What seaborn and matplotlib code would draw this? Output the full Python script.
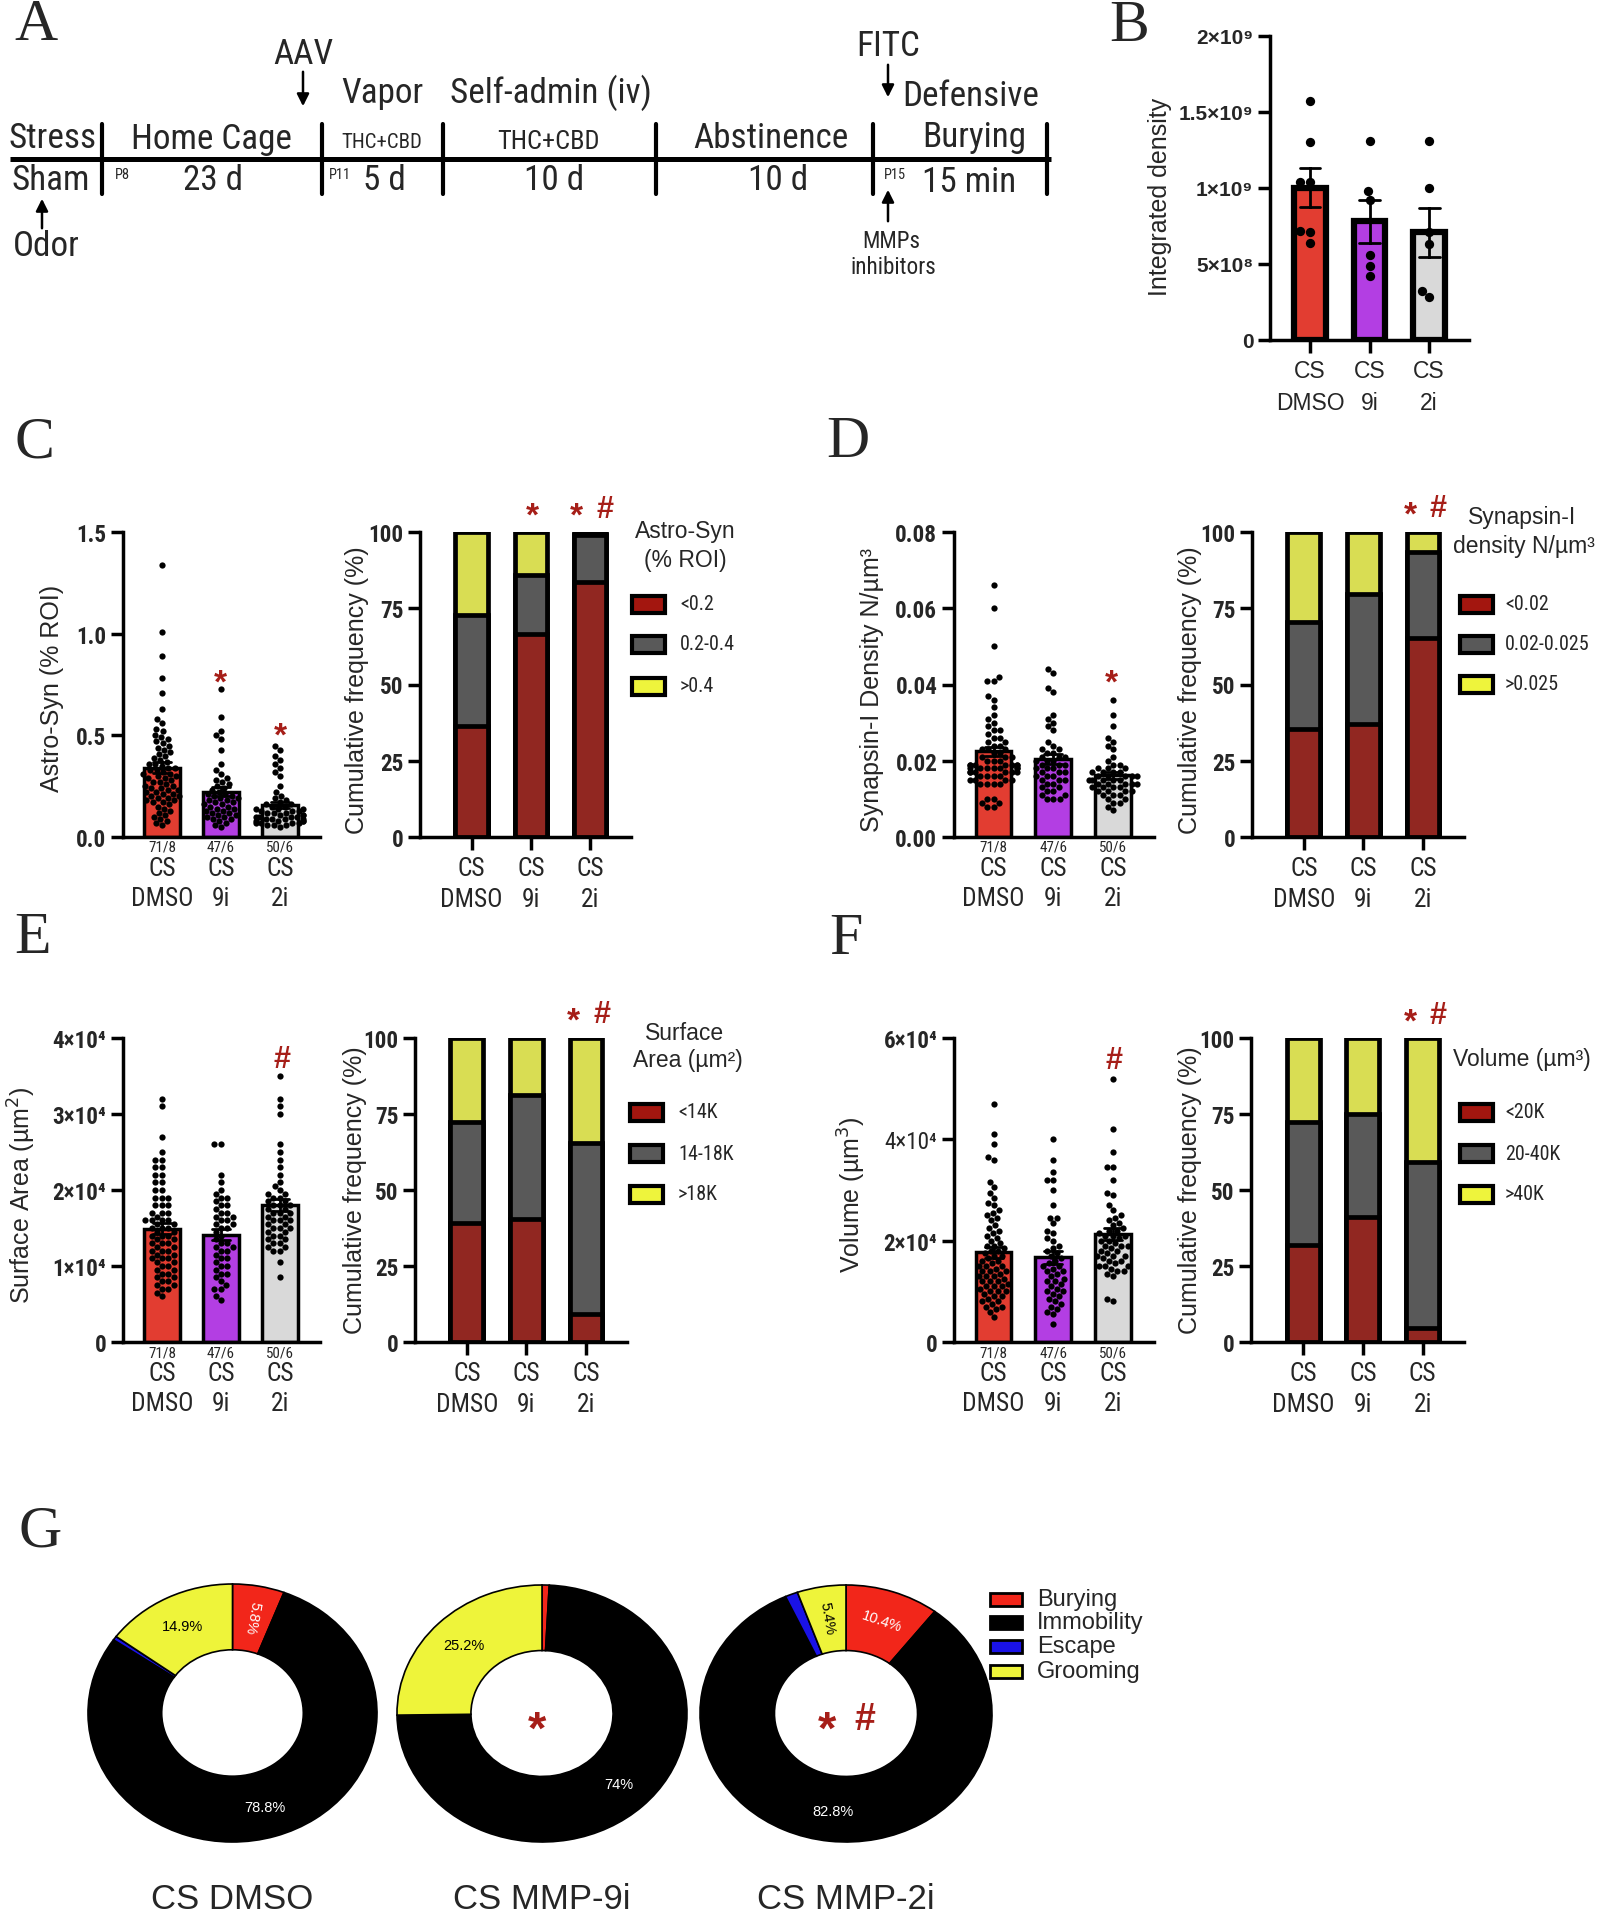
import warnings
import numpy as np
import pandas as pd
import matplotlib
matplotlib.use("Agg")
import matplotlib.pyplot as plt
from matplotlib import font_manager
from matplotlib.patches import Rectangle
import seaborn as sns
warnings.filterwarnings('ignore')

# ----- Data -----
groups = ['CS\nDMSO', 'CS\n9i', 'CS\n2i']
n_labels = ['71/8', '47/6', '50/6']

# B: integrated density (per animal)
b_dmso = [1.57e9, 1.30e9, 1.04e9, 1.04e9, 0.72e9, 0.71e9, 0.64e9]
b_9i = [1.31e9, 0.98e9, 0.92e9, 0.56e9, 0.49e9, 0.42e9]
b_2i = [1.31e9, 1.00e9, 0.71e9, 0.63e9, 0.32e9, 0.28e9]

# C: Astro-Syn (% ROI)
c_dmso = [1.34, 1.01, 0.89, 0.78, 0.71, 0.63, 0.58, 0.56, 0.53, 0.52, 0.50, 0.49, 0.48, 0.47,
          0.46, 0.45, 0.44, 0.43, 0.42, 0.41, 0.40, 0.39, 0.38, 0.37, 0.36, 0.36, 0.35, 0.34,
          0.33, 0.32, 0.31, 0.30, 0.30, 0.29, 0.28, 0.27, 0.27, 0.26, 0.25, 0.25, 0.24, 0.24,
          0.23, 0.23, 0.22, 0.22, 0.21, 0.21, 0.20, 0.20, 0.19, 0.19, 0.18, 0.18, 0.17, 0.17,
          0.16, 0.15, 0.14, 0.13, 0.12, 0.11, 0.10, 0.09, 0.08, 0.07, 0.06, 0.34, 0.33, 0.31, 0.29]
c_9i = [0.73, 0.59, 0.52, 0.50, 0.48, 0.43, 0.36, 0.33, 0.31, 0.29, 0.28, 0.27, 0.26, 0.25,
        0.24, 0.23, 0.22, 0.21, 0.21, 0.20, 0.20, 0.19, 0.19, 0.18, 0.18, 0.17, 0.17, 0.16,
        0.16, 0.15, 0.15, 0.14, 0.14, 0.13, 0.13, 0.12, 0.12, 0.11, 0.11, 0.10, 0.10, 0.09,
        0.09, 0.08, 0.07, 0.06, 0.05]
c_2i = [0.45, 0.43, 0.40, 0.38, 0.36, 0.34, 0.32, 0.30, 0.25, 0.22, 0.20, 0.19, 0.18, 0.17,
        0.16, 0.16, 0.15, 0.15, 0.14, 0.14, 0.14, 0.13, 0.13, 0.13, 0.12, 0.12, 0.12, 0.11,
        0.11, 0.11, 0.10, 0.10, 0.10, 0.10, 0.09, 0.09, 0.09, 0.09, 0.08, 0.08, 0.08, 0.08,
        0.07, 0.07, 0.07, 0.07, 0.06, 0.06, 0.06, 0.05]
c_low = [36.3, 66.7, 83.6]     # <0.2
c_mid = [36.4, 19.3, 15.3]     # 0.2-0.4
c_high = [27.3, 14.0, 1.1]     # >0.4

# D: Synapsin-I density (x 1e-3 N/um3)
d_dmso = [66, 60, 50, 42, 41, 41, 37, 36, 34, 32, 31, 30, 29, 28, 28, 27, 26, 26, 25, 25, 24, 24,
          23, 23, 23, 22, 22, 21, 21, 21, 20, 20, 20, 19, 19, 19, 19, 18, 18, 18, 18, 17, 17, 17,
          17, 16, 16, 16, 16, 15, 15, 15, 15, 14, 14, 14, 14, 19, 19, 19, 18, 18, 18, 17, 17, 10,
          10, 9, 9, 8, 8]
d_9i = [44, 43, 39, 38, 32, 31, 30, 29, 28, 25, 24, 23, 23, 22, 22, 21, 21, 20, 20, 20, 19, 19,
        19, 18, 18, 18, 17, 17, 17, 16, 16, 16, 15, 15, 15, 14, 14, 13, 13, 12, 12, 11, 11, 10,
        10, 10, 21]
d_2i = [36, 32, 29, 26, 25, 24, 23, 21, 20, 19, 19, 18, 18, 18, 17, 17, 17, 17, 16, 16, 16, 16,
        16, 15, 15, 15, 15, 15, 14, 14, 14, 14, 14, 13, 13, 13, 13, 12, 12, 12, 12, 11, 11, 11,
        10, 10, 9, 9, 8, 7]
d_low = [35.3, 37.0, 65.1]     # <0.02
d_mid = [35.1, 42.7, 28.3]     # 0.02-0.025
d_high = [29.6, 20.3, 6.6]     # >0.025

# E: surface area (x 1e3 um2)
e_dmso = [32, 31, 27, 25, 24, 24, 23, 23, 22, 22, 21, 21, 20, 20, 19, 19, 19, 18, 18, 18, 17, 17,
          17, 16, 16, 16, 16, 15.5, 15.5, 15, 15, 15, 14.5, 14.5, 14, 14, 14, 13.5, 13.5, 13, 13,
          13, 12.5, 12.5, 12, 12, 12, 11.5, 11.5, 11, 11, 11, 10.5, 10.5, 10, 10, 9.5, 9.5, 9, 9,
          8.5, 8.5, 8, 8, 7.5, 7.5, 7, 7, 6.5, 6, 16.5]
e_9i = [26, 26, 22, 21, 20, 19.5, 19, 19, 18.5, 18, 18, 17.5, 17, 17, 16.5, 16.5, 16, 16, 15.5,
        15.5, 15, 15, 14.5, 14, 13.5, 13, 12.5, 12.5, 12, 12, 11.5, 11, 11, 10.5, 10, 10, 9.5, 9,
        9, 8.5, 8, 7.5, 7, 7, 6, 5.5, 13]
e_2i = [35, 32, 31, 30, 26, 25, 24, 23, 22, 21, 20.5, 20, 19.5, 19, 19, 18.5, 18.5, 18, 18, 17.5,
        17.5, 17, 17, 16.5, 16.5, 16, 16, 15.5, 15.5, 15, 15, 14.5, 14.5, 14, 14, 13.5, 13.5, 13,
        13, 12.5, 12.5, 12, 12, 10.5, 8.5, 19.5, 18, 17, 16, 15]
e_low = [39.1, 40.4, 9.1]      # <14K
e_mid = [33.4, 41.0, 56.4]     # 14-18K
e_high = [27.5, 18.6, 34.5]    # >18K

# F: volume (x 1e3 um3)
f_dmso = [47, 41, 39, 36.5, 36, 31.5, 30.5, 29.5, 28.5, 27.5, 27, 26, 25.5, 25, 24.5, 24, 23, 22.5,
          22, 21.5, 21, 20.5, 20, 19.5, 19, 19, 18.5, 18, 18, 17.5, 17, 17, 16.5, 16, 16, 15.5, 15,
          15, 14.5, 14, 14, 13.5, 13, 13, 12.5, 12, 12, 11.5, 11, 11, 10.5, 10, 10, 9.5, 9, 9, 8.5,
          8, 8, 7.5, 7, 7, 6.5, 6, 5, 15, 14, 13, 12, 11, 10]
f_9i = [40, 36, 33.5, 32, 32, 30, 27, 24.5, 24.5, 23.5, 22, 21.5, 20.5, 20, 19, 18.5, 18, 17.5, 17,
        16.5, 16, 15.5, 15, 14.5, 14, 13.5, 13, 12.5, 12, 11.5, 11, 10.5, 10, 9.5, 9, 8.5, 8, 7.5,
        7, 6.5, 6, 5.5, 3.5, 15, 14, 12, 10]
f_2i = [52, 42, 37.5, 34.5, 34.5, 32, 29.5, 29, 27, 26, 25, 24.5, 24, 23.5, 23, 22.5, 22, 22, 21.5,
        21, 21, 20.5, 20, 20, 19.5, 19, 19, 18.5, 18, 18, 17.5, 17, 17, 16.5, 16, 16, 15.5, 15, 15,
        14.5, 14, 14, 13.5, 13, 8.5, 8, 21, 19, 17, 15]
f_low = [31.9, 41.0, 4.7]      # <20K
f_mid = [40.4, 34.1, 54.4]     # 20-40K
f_high = [27.7, 24.9, 40.9]    # >40K

# G: defensive burying behaviour (% of time)
g_behaviours = ['Burying', 'Immobility', 'Escape', 'Grooming']
g_groups = ['CS DMSO', 'CS MMP-9i', 'CS MMP-2i']
g_dmso = [5.8, 78.8, 0.5, 14.9]
g_9i = [0.8, 74.0, 0.0, 25.2]
g_2i = [10.4, 82.8, 1.4, 5.4]

# ----- Style -----
sns.set_theme(style='ticks')
_ttf = font_manager.fontManager.ttflist
_names = {f.name for f in _ttf}
NARROW_STRETCH = 'normal'
if 'Liberation Sans Narrow' in _names:
    NARROW = 'Liberation Sans Narrow'
elif 'Roboto Condensed' in _names:
    NARROW = 'Roboto Condensed'
else:
    _cond = [f.name for f in _ttf if str(f.stretch) in ('condensed', 'semi-condensed')
             and f.name in ('Liberation Sans', 'Noto Sans', 'DejaVu Sans', 'Open Sans', 'Roboto')]
    if _cond:
        NARROW, NARROW_STRETCH = _cond[0], 'condensed'
    else:
        NARROW = 'Liberation Sans'
# narrow fonts may be set a bit larger for the same width
NS = 1.0 if (NARROW == 'Liberation Sans' and NARROW_STRETCH == 'normal') else 1.15
NARROW_F = [NARROW, 'Liberation Sans', 'DejaVu Sans']
SANS_F = ['Liberation Sans', 'DejaVu Sans']
SERIF_F = ['Liberation Serif', 'DejaVu Serif']
plt.rcParams['font.family'] = SANS_F

bar_colors = ['#FF2414', '#BF22FF', '#D9D9D9']
DARK_RED, GRAY, YELLOW = '#A3160F', '#595959', '#EEF43C'
stack_colors = [DARK_RED, GRAY, YELLOW]
g_colors = ['#F2261A', '#000000', '#1A12E6', '#EEF43A']
MARK_RED = '#A61E18'

W, H = 1600, 1924
fig = plt.figure(figsize=(16, 19.24), dpi=100)


def add_ax(left, top, right, bottom):
    return fig.add_axes([left / W, 1 - bottom / H, (right - left) / W, (bottom - top) / H])


def ftext(x, y, s, **kw):
    kw.setdefault('ha', 'center')
    kw.setdefault('va', 'center')
    return fig.text(x / W, 1 - y / H, s, **kw)


def ntext_kw(size):
    return dict(fontsize=size * NS, family=NARROW_F, fontstretch=NARROW_STRETCH)


def mark(x, y, sym, size=24):
    off = (0.57 if sym == '*' else 0.36) * size * 100 / 72
    ftext(x, y + off, sym, va='baseline', fontsize=size, fontweight='bold',
          color=MARK_RED, family=SANS_F)


def style(ax, xlim, ylim, yticks, yticklabels, xtick_len, xpad,
          narrow_x=True, xsize=16, xls=1.35, narrow_y=True, ysize=14.5):
    ax.set_xlim(*xlim)
    ax.set_ylim(*ylim)
    ax.set_yticks(yticks)
    ax.set_yticklabels(yticklabels)
    for t in ax.get_yticklabels():
        if narrow_y:
            t.set_fontfamily(NARROW_F)
            t.set_fontstretch(NARROW_STRETCH)
            t.set_fontsize(ysize * NS)
        else:
            t.set_fontfamily(SANS_F)
            t.set_fontsize(ysize)
        t.set_fontweight('bold')
    ax.set_xticks(range(3))
    ax.set_xticklabels(groups)
    for t in ax.get_xticklabels():
        if narrow_x:
            t.set_fontfamily(NARROW_F)
            t.set_fontstretch(NARROW_STRETCH)
            t.set_fontsize(xsize * NS)
        else:
            t.set_fontfamily(SANS_F)
            t.set_fontsize(xsize)
        t.set_linespacing(xls)
    ax.tick_params(axis='y', length=9, width=2.5, pad=3, color='black')
    ax.tick_params(axis='x', length=xtick_len, width=2.5, pad=xpad, color='black')
    sns.despine(ax=ax)
    for s in ['left', 'bottom']:
        ax.spines[s].set_linewidth(2.5)
        ax.spines[s].set_color('black')
    ax.set_xlabel('')
    ax.set_ylabel('')
    ax.set_facecolor('none')


def scatter_bar(ax, values, scale=1.0, lw=2.5, width=0.6, dot=4.5, capsize=0.3):
    df = pd.DataFrame({
        'group': np.repeat(groups, [len(v) for v in values]),
        'value': np.concatenate([np.asarray(v, float) * scale for v in values]),
    })
    sns.barplot(data=df, x='group', y='value', order=groups, hue='group', hue_order=groups,
                palette=bar_colors, errorbar='se', capsize=capsize,
                err_kws={'color': 'black', 'linewidth': 2}, edgecolor='black',
                linewidth=lw, width=width, legend=False, ax=ax)
    for ln in ax.lines:
        ln.set_zorder(4)
    sns.swarmplot(data=df, x='group', y='value', order=groups, color='black', size=dot,
                  linewidth=0, ax=ax, zorder=3)


def n_counts(ax, off_px=10):
    for i, n in enumerate(n_labels):
        ax.annotate(n, xy=(i, 0), xycoords=('data', 'axes fraction'),
                    xytext=(0, -off_px * 72 / 100), textcoords='offset points',
                    ha='center', va='center', **ntext_kw(9.5))


def stacked(ax, low, mid, high):
    cum = np.cumsum([low, mid, high], axis=0)
    for level in [2, 1, 0]:
        sns.barplot(x=groups, y=cum[level], order=groups, color=stack_colors[level],
                    edgecolor='black', linewidth=3.4, width=0.55, errorbar=None, ax=ax)


def box_legend(x_box, rows_y, labels, text_x, colors, bw=33, bh=17, lw=3, text_kw=None):
    for y, lab, col in zip(rows_y, labels, colors):
        fig.add_artist(Rectangle((x_box / W, 1 - (y + bh / 2) / H), bw / W, bh / H,
                                 transform=fig.transFigure, facecolor=col,
                                 edgecolor='black', linewidth=lw))
        ftext(text_x, y, lab, ha='left', **text_kw)


def ylab(x, y, s):
    ftext(x, y, s, rotation=90, fontsize=18, family=SANS_F)


# ----- Panel letters -----
for letter, (lx, ly) in zip('ABCDEFG', [(36, 26), (1129, 27), (34, 443), (848, 443),
                                       (33, 939), (846, 940), (40, 1533)]):
    ftext(lx, ly, letter, fontsize=43, family=SERIF_F)

# ----- Panel A: timeline -----
axA = add_ax(0, 0, 1060, 300)
axA.set_xlim(0, 1060)
axA.set_ylim(300, 0)
axA.axis('off')
axA.plot([10, 1051], [160, 160], color='black', lw=3.6, solid_capstyle='butt')
for tx in [102, 322, 443, 656, 873, 1047]:
    axA.plot([tx, tx], [125, 195], color='black', lw=3)

timeline_text = [
    (53, 139, 'Stress', 22), (211, 139, 'Home Cage', 22), (382, 142, 'THC+CBD', 13),
    (548, 142, 'THC+CBD', 16.5), (771, 139, 'Abstinence', 22), (974, 138, 'Burying', 22),
    (51, 181, 'Sham', 22), (213, 181, '23 d', 22), (384, 181, '5 d', 22), (554, 181, '10 d', 22),
    (778, 181, '10 d', 22), (969, 183, '15 min', 22),
    (122, 175, 'P8', 9), (340, 175, 'P11', 9), (895, 175, 'P15', 9),
    (303, 55, 'AAV', 22), (382, 93, 'Vapor', 22), (551, 93, 'Self-admin (iv)', 22),
    (888, 47, 'FITC', 22), (971, 97, 'Defensive', 22),
    (46, 247, 'Odor', 22), (891, 242, 'MMPs', 14.5), (893, 267, 'inhibitors', 14.5),
]
for tx, ty, s, fs in timeline_text:
    axA.text(tx, ty, s, ha='center', va='center', **ntext_kw(fs))

for ax_x, y_tail, y_head in [(303, 70, 110), (888, 63, 101), (888, 225, 188), (42, 232, 197)]:
    axA.annotate('', xy=(ax_x, y_head), xytext=(ax_x, y_tail),
                 arrowprops=dict(arrowstyle='-|>', lw=1.8, color='black', mutation_scale=18))

# ----- Panel B -----
axB = add_ax(1270, 37, 1469, 341)
scatter_bar(axB, [b_dmso, b_9i, b_2i], lw=4.5, width=0.53, dot=6.7, capsize=0.35)
style(axB, (-0.672, 2.67), (0, 2e9), [0, 5e8, 1e9, 1.5e9, 2e9],
      ['0', '5×10⁸', '1×10⁹', '1.5×10⁹', '2×10⁹'], 9, 5,
      narrow_x=False, xsize=16.5, xls=1.5, narrow_y=False, ysize=15)
ylab(1160, 197, 'Integrated density')

# ----- Panels C-F -----
left_xlim, right_xlim = (-0.66, 2.68), (-0.87, 2.69)
stack_ticks = [0, 25, 50, 75, 100]
stack_ticklabels = ['0', '25', '50', '75', '100']

panels = [
    dict(vals=[c_dmso, c_9i, c_2i], scale=1.0, lbox=(123, 533, 320, 838), rbox=(420, 533, 631, 838),
         ylim=(0, 1.5), yticks=[0, 0.5, 1.0, 1.5], yticklabels=['0.0', '0.5', '1.0', '1.5'],
         ylab_l=(52, 688, 'Astro-Syn (% ROI)'), ylab_r=(357, 690),
         freq=(c_low, c_mid, c_high), leg_labels=['<0.2', '0.2-0.4', '>0.4'],
         leg_box=632, leg_rows=[605, 645, 687], leg_text=680,
         title=[(685, 532, 'Astro-Syn'), (685, 560, '(% ROI)')]),
    dict(vals=[d_dmso, d_9i, d_2i], scale=1e-3, lbox=(954, 533, 1154, 838), rbox=(1252, 533, 1464, 838),
         ylim=(0, 0.08), yticks=[0, 0.02, 0.04, 0.06, 0.08],
         yticklabels=['0.00', '0.02', '0.04', '0.06', '0.08'],
         ylab_l=(872, 690, 'Synapsin-I Density N/µm³'), ylab_r=(1190, 690),
         freq=(d_low, d_mid, d_high), leg_labels=['<0.02', '0.02-0.025', '>0.025'],
         leg_box=1460, leg_rows=[605, 645, 685], leg_text=1505,
         title=[(1522, 518, 'Synapsin-I'), (1524, 547, 'density N/µm³')]),
    dict(vals=[e_dmso, e_9i, e_2i], scale=1e3, lbox=(123, 1039, 320, 1343), rbox=(415, 1039, 627, 1343),
         ylim=(0, 4e4), yticks=[0, 1e4, 2e4, 3e4, 4e4],
         yticklabels=['0', '1×10⁴', '2×10⁴', '3×10⁴', '4×10⁴'],
         ylab_l=(22, 1195, 'Surface Area (µm$^2$)'), ylab_r=(355, 1190),
         freq=(e_low, e_mid, e_high), leg_labels=['<14K', '14-18K', '>18K'],
         leg_box=630, leg_rows=[1113, 1154, 1195], leg_text=678,
         title=[(685, 1033, 'Surface'), (688, 1061, 'Area (µm²)')]),
    dict(vals=[f_dmso, f_9i, f_2i], scale=1e3, lbox=(954, 1039, 1154, 1343), rbox=(1251, 1039, 1464, 1343),
         ylim=(0, 6e4), yticks=[0, 2e4, 4e4, 6e4],
         yticklabels=['0', '2×10⁴', '4×10⁴', '6×10⁴'],
         ylab_l=(852, 1195, 'Volume (µm$^3$)'), ylab_r=(1190, 1190),
         freq=(f_low, f_mid, f_high), leg_labels=['<20K', '20-40K', '>40K'],
         leg_box=1460, leg_rows=[1113, 1154, 1195], leg_text=1505,
         title=[(1522, 1060, 'Volume (µm³)')]),
]

axes_left, axes_right = [], []
for p in panels:
    axl = add_ax(*p['lbox'])
    scatter_bar(axl, p['vals'], scale=p['scale'])
    style(axl, left_xlim, p['ylim'], p['yticks'], p['yticklabels'], 0, 13.5)
    n_counts(axl)
    ylab(*p['ylab_l'])
    axes_left.append(axl)

    axr = add_ax(*p['rbox'])
    stacked(axr, *p['freq'])
    style(axr, right_xlim, (0, 100), stack_ticks, stack_ticklabels, 9, 5)
    ylab(p['ylab_r'][0], p['ylab_r'][1], 'Cumulative frequency (%)')
    axes_right.append(axr)

    box_legend(p['leg_box'], p['leg_rows'], p['leg_labels'], p['leg_text'], stack_colors,
               text_kw=ntext_kw(12.5))
    for tx, ty, s in p['title']:
        ftext(tx, ty, s, fontsize=16.5, family=SANS_F)

# the 4x10^4 tick of panel F is drawn in regular weight in the original
axes_left[3].get_yticklabels()[2].set_fontweight('normal')

# significance marks
mark(220, 674, '*'); mark(280, 727, '*')
mark(532, 507, '*'); mark(576, 507, '*'); mark(605, 507, '#', 22)
mark(1111, 674, '*')
mark(1410, 506, '*'); mark(1438, 506, '#', 22)
mark(282, 1057, '#', 22)
mark(573, 1012, '*'); mark(602, 1012, '#', 22)
mark(1114, 1058, '#', 22)
mark(1410, 1013, '*'); mark(1438, 1013, '#', 22)

# ----- Panel G: donuts -----
label_modes = {(0, 0): 'radial', (2, 0): 'tangential', (2, 3): 'radial'}
donut_boxes = [(88, 1585, 377, 1843), (397, 1586, 687, 1843), (700, 1586, 992, 1843)]
for gi, (vals, box, name) in enumerate(zip([g_dmso, g_9i, g_2i], donut_boxes, g_groups)):
    axg = add_ax(*box)
    wedges, _, autotexts = axg.pie(
        vals, colors=g_colors, startangle=90, counterclock=False, radius=1,
        wedgeprops=dict(width=0.51, edgecolor='black', linewidth=1.2),
        autopct=lambda p: f'{round(p, 1):g}%' if p >= 5 else '', pctdistance=0.76,
        textprops=dict(fontsize=10.5, family=SANS_F))
    axg.set_aspect('auto')
    axg.set_xlim(-1, 1)
    axg.set_ylim(-1, 1)
    for wi, (w, t) in enumerate(zip(wedges, autotexts)):
        w.set_clip_on(False)
        t.set_color('black' if wi == 3 else 'white')
        mid = (w.theta1 + w.theta2) / 2
        mode = label_modes.get((gi, wi))
        if mode == 'radial':
            t.set_rotation(mid - 180)
        elif mode == 'tangential':
            t.set_rotation(mid - 90)
    cx = (box[0] + box[2]) / 2
    ftext(cx, 1900, name, fontsize=25, family=SANS_F)

mark(537, 1717, '*', 34)
mark(827, 1717, '*', 34)
mark(865, 1717, '#', 27)

box_legend(990, [1600, 1623, 1647, 1672], g_behaviours, 1037, g_colors,
           bw=32, bh=13, lw=2, text_kw=dict(fontsize=17, family=SANS_F))

fig.savefig('out.png', dpi=100)
